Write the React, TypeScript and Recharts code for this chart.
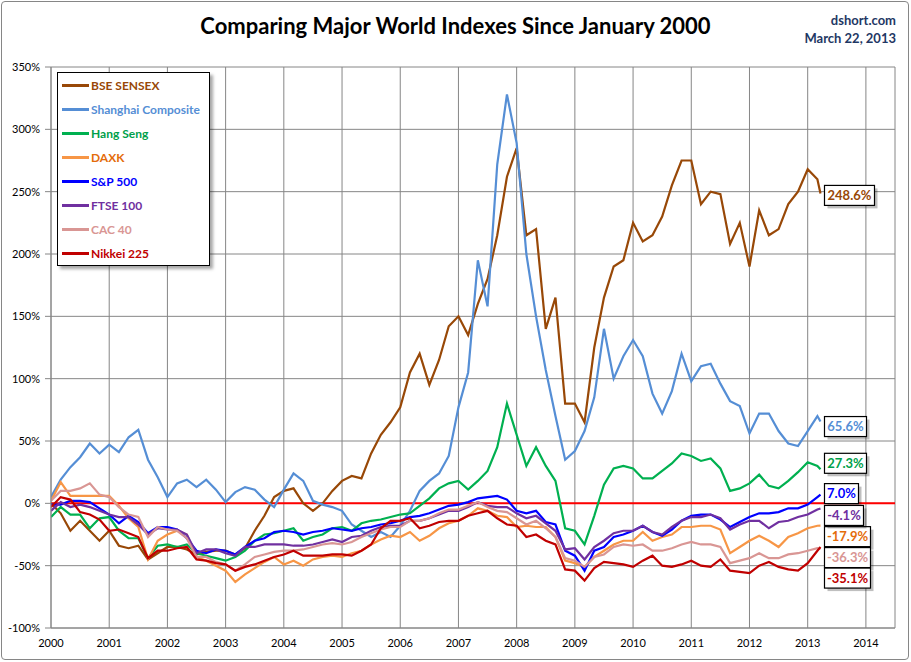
import React from "react"
import { LineChart, Line, XAxis, YAxis, CartesianGrid, ReferenceLine } from "recharts"

// two-month sampling from Jan 2000, plus the last close on March 22, 2013
const dates = Array.from({ length: 80 }, (_, k) => 2000 + k / 6).concat([2013.22])

const yearTicks = [2000, 2001, 2002, 2003, 2004, 2005, 2006, 2007, 2008, 2009, 2010, 2011, 2012, 2013, 2014]
const pctTicks = [-100, -50, 0, 50, 100, 150, 200, 250, 300, 350]

const sensex = [
  0, -8, -22, -14, -22, -30,
  -22, -34, -36, -34, -45, -40,
  -35, -35, -37, -41, -39, -38,
  -38, -41, -36, -22, -10, 5,
  10, 12, 0, -6, 0, 10,
  18, 22, 20, 40, 55, 65,
  77, 105, 120, 95, 115, 142,
  150, 135, 160, 180, 215, 262,
  285, 215, 220, 140, 165, 80,
  80, 65, 125, 165, 190, 195,
  225, 210, 215, 230, 255, 275,
  275, 240, 250, 248, 208, 225,
  190, 235, 215, 220, 240, 250,
  268, 260, 248.6,
]

const shanghai = [
  5, 19, 29, 37, 48, 40,
  47, 41, 53, 59, 35, 21,
  5, 16, 19, 13, 19, 11,
  1, 9, 13, 11, 3, -3,
  11, 24, 18, 2, -1, -3,
  -6, -17, -22, -27, -23, -27,
  -18, -6, 10, 18, 24, 38,
  77, 105, 195, 158, 272, 328,
  289, 200, 150, 107, 70, 35,
  42, 58, 85, 140, 100, 118,
  131, 118, 88, 72, 90, 120,
  98, 110, 112, 96, 82, 78,
  56, 72, 72, 58, 48, 46,
  58, 70, 65.6,
]

const hangSeng = [
  -11, -3, -9, -9, -20, -12,
  -11, -22, -28, -28, -44, -34,
  -33, -35, -33, -40, -42, -44,
  -46, -43, -38, -30, -25, -24,
  -22, -20, -30, -27, -25, -20,
  -19, -22, -16, -14, -13, -11,
  -9, -8, -2, 4, 12, 16,
  18, 11, 18, 26, 45, 80,
  55, 30, 45, 30, 18, -20,
  -22, -33, -10, 15, 28, 30,
  28, 20, 20, 26, 32, 40,
  38, 34, 36, 28, 10, 12,
  16, 23, 14, 12, 18, 25,
  33, 30, 27.3,
]

const daxk = [
  2, 17, 6, 6, 6, 6,
  6, -2, -12, -19, -45, -30,
  -25, -22, -25, -43, -46, -50,
  -54, -63, -57, -52, -47, -43,
  -49, -46, -50, -45, -43, -42,
  -43, -40, -38, -33, -29, -26,
  -27, -23, -30, -26, -20, -16,
  -14, -10, -4, -6, -10, -11,
  -19, -18, -19, -19, -27, -46,
  -48, -51, -43, -38, -33, -30,
  -30, -23, -30, -27, -25, -19,
  -19, -18, -18, -21, -40, -35,
  -30, -26, -30, -35, -27, -24,
  -20, -18, -17.9,
]

const sp500 = [
  -1, -1, 2, 2, 1, -4,
  -9, -16, -10, -15, -24, -19,
  -19, -21, -28, -38, -40, -37,
  -38, -41, -35, -30, -28, -23,
  -22, -23, -25, -23, -22, -20,
  -21, -22, -20, -19, -17, -16,
  -14, -11, -10, -8, -5, -2,
  -1, 1, 4, 5, 6, 3,
  -6, -8, -6, -15, -17, -38,
  -42, -54, -38, -35, -27, -25,
  -22, -18, -23, -26, -21, -14,
  -10, -9, -9, -13, -19, -15,
  -11, -8, -8, -7, -4, -4,
  -1, 5, 7.0,
]

const ftse = [
  -6, 1, -3, -1, -3, -6,
  -9, -11, -11, -17, -25, -20,
  -21, -21, -25, -40, -37, -37,
  -40, -42, -35, -35, -33, -33,
  -33, -34, -34, -33, -31, -29,
  -31, -27, -26, -22, -19, -18,
  -18, -14, -14, -12, -9, -6,
  -6, -3, 1, -2, -3, -3,
  -8, -12, -10, -16, -22, -37,
  -36, -45, -35, -30, -24, -22,
  -22, -18, -23, -25, -19, -14,
  -11, -11, -9, -12, -21, -17,
  -14, -14, -20, -15, -14, -11,
  -9, -5, -4.1,
]

const cac = [
  2, 10, 10, 12, 16, 7,
  5, -3, -9, -11, -27, -19,
  -21, -22, -28, -43, -43, -47,
  -49, -54, -49, -43, -41, -39,
  -38, -38, -37, -35, -33, -32,
  -33, -31, -27, -24, -21, -19,
  -19, -14, -14, -12, -8, -5,
  -5, -2, 1, -3, -6, -7,
  -12, -17, -14, -20, -27, -44,
  -46, -51, -43, -41, -35, -33,
  -34, -33, -38, -38, -36, -33,
  -31, -33, -33, -35, -48, -46,
  -44, -40, -44, -44, -41, -40,
  -38, -36, -36.3,
]

const nikkei = [
  -3, 5, 3, -7, -9, -13,
  -22, -21, -24, -27, -44, -38,
  -38, -36, -35, -45, -46, -48,
  -49, -54, -51, -49, -46, -43,
  -41, -38, -42, -42, -42, -41,
  -41, -42, -38, -33, -20, -14,
  -14, -12, -20, -18, -15, -14,
  -14, -10, -8, -6, -12, -17,
  -18, -27, -25, -30, -33, -53,
  -54, -62, -52, -47, -48, -49,
  -51, -46, -42, -50, -51, -49,
  -46, -50, -51, -45, -54, -55,
  -56, -50, -47, -51, -53, -54,
  -48, -38, -35.1,
]

const series = [
  { key: "sensex", name: "BSE SENSEX", values: sensex, color: "#984807", text: "#984807", dy: 2, w: 50 },
  { key: "shanghai", name: "Shanghai Composite", values: shanghai, color: "#558ED5", text: "#558ED5", dy: 5, w: 42 },
  { key: "hangSeng", name: "Hang Seng", values: hangSeng, color: "#00B050", text: "#00A04A", dy: -6, w: 42 },
  { key: "daxk", name: "DAXK", values: daxk, color: "#F79646", text: "#E46C0A", dy: 11, w: 46 },
  { key: "sp500", name: "S&P 500", values: sp500, color: "#0000FF", text: "#0000FF", dy: -1, w: 34 },
  { key: "ftse", name: "FTSE 100", values: ftse, color: "#7030A0", text: "#7030A0", dy: 7, w: 39 },
  { key: "cac", name: "CAC 40", values: cac, color: "#D99694", text: "#D99694", dy: 9, w: 46 },
  { key: "nikkei", name: "Nikkei 225", values: nikkei, color: "#C00000", text: "#C00000", dy: 31, w: 46 },
]

const data = dates.map((d, i) => {
  const row: any = { date: d }
  series.forEach((s) => { row[s.key] = s.values[i] })
  return row
})

const lastIndex = dates.length - 1
const font = "Lato, Carlito, 'Liberation Sans', sans-serif"

const endLabel = (s: any) => (props: any) => {
  const { x, y, index, value } = props
  if (index !== lastIndex) return null
  const top = y + s.dy - 10
  const left = x + 4
  return (
    <g>
      <rect x={left + 3} y={top + 3} width={s.w} height={20} fill="#000" opacity={0.25} />
      <rect x={left} y={top} width={s.w} height={20} fill="#fff" stroke="#000" strokeWidth={1.2} />
      <text x={left + s.w / 2} y={top + 14.5} textAnchor="middle" fontSize={13} fontWeight="bold" fill={s.text} fontFamily={font}>
        {value.toFixed(1)}%
      </text>
    </g>
  )
}

export default function App() {
  return (
    <div style={{ position: "absolute", left: 0, top: 0, width: 911, height: 662, background: "#fff", fontFamily: font }}>
      <div style={{ position: "absolute", left: 1, top: 1, width: 906, height: 657, border: "1px solid #868686", borderRadius: 4 }} />
      <div style={{ position: "absolute", left: 0, width: 911, top: 12, textAlign: "center", fontSize: 22, fontWeight: "bold", color: "#000", lineHeight: "28px" }}>
        Comparing Major World Indexes Since January 2000
      </div>
      <div style={{ position: "absolute", right: 15, top: 11, fontSize: 13, fontWeight: "bold", color: "#1F3864", textAlign: "right", lineHeight: "18px" }}>
        <div>dshort.com</div>
        <div>March 22, 2013</div>
      </div>
      <LineChart width={911} height={662} data={data} margin={{ top: 67, right: 16, bottom: 0, left: 0 }}>
        <CartesianGrid stroke="#868686" strokeWidth={1} />
        <XAxis
          dataKey="date"
          type="number"
          domain={[2000, 2014.5]}
          ticks={yearTicks}
          height={34}
          tickLine={false}
          tickSize={0}
          tickMargin={11}
          axisLine={{ stroke: "#868686" }}
          tick={{ fontSize: 11, fill: "#000", fontFamily: font }}
          allowDataOverflow
        />
        <YAxis
          type="number"
          domain={[-100, 350]}
          ticks={pctTicks}
          width={51}
          tickSize={6}
          tickMargin={5}
          tickLine={{ stroke: "#868686" }}
          axisLine={{ stroke: "#868686" }}
          tick={{ fontSize: 11, fill: "#000", fontFamily: font }}
          tickFormatter={(v) => `${v}%`}
        />
        <ReferenceLine y={0} stroke="#FF0000" strokeWidth={2} />
        {series.map((s) => (
          <Line
            key={s.key}
            dataKey={s.key}
            name={s.name}
            type="linear"
            stroke={s.color}
            strokeWidth={2.2}
            dot={false}
            isAnimationActive={false}
            label={endLabel(s)}
          />
        ))}
      </LineChart>
      <div
        style={{
          position: "absolute",
          left: 57,
          top: 72,
          width: 151,
          height: 192,
          background: "#fff",
          border: "1px solid #000",
          boxShadow: "3px 3px 3px rgba(0,0,0,0.35)",
        }}
      >
        {series.map((s, i) => (
          <div key={s.key} style={{ position: "absolute", left: 4, top: 4 + i * 24, height: 16, display: "flex", alignItems: "center" }}>
            <div style={{ width: 27, height: 3, background: s.color, marginRight: 2 }} />
            <span style={{ fontSize: 12, fontWeight: "bold", color: s.text, whiteSpace: "nowrap" }}>{s.name}</span>
          </div>
        ))}
      </div>
    </div>
  )
}
